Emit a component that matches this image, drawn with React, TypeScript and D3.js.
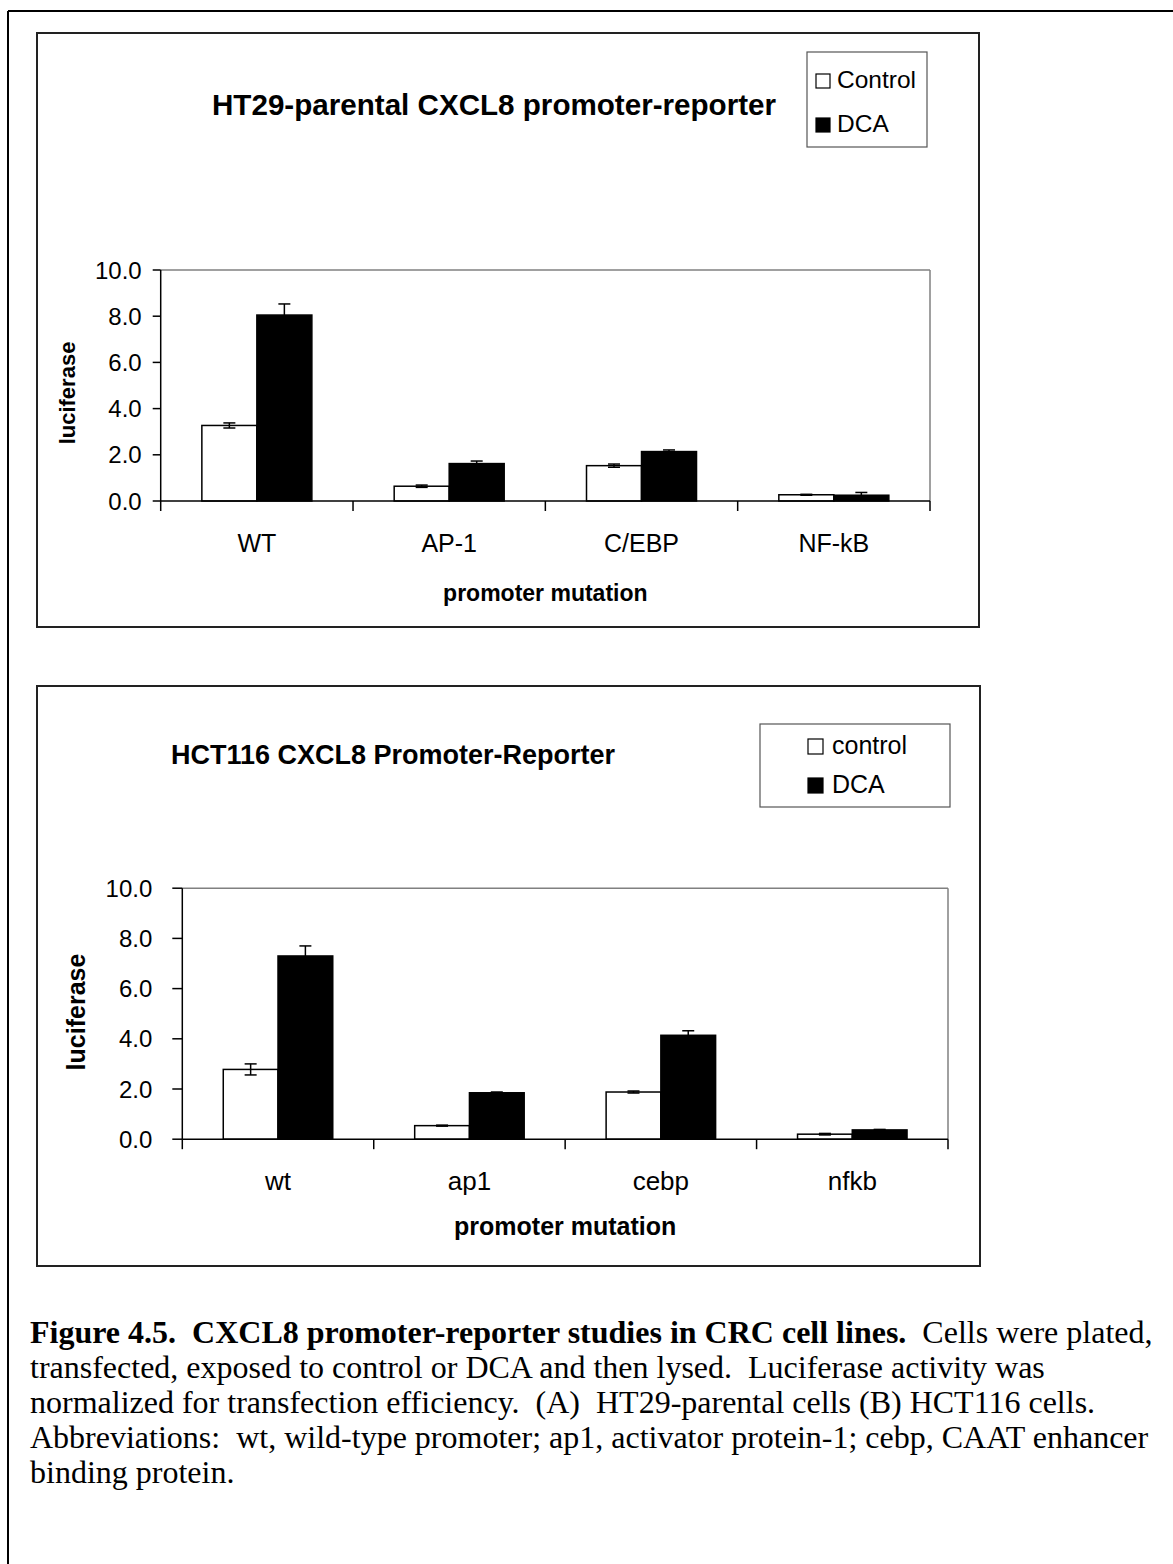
import React from "react";
import * as d3 from "d3";

// ---------- DATA ----------
const seriesNames = ["Control", "DCA"];
const seriesNamesB = ["control", "DCA"];

const categoriesA = ["WT", "AP-1", "C/EBP", "NF-kB"];
const controlA = [3.27, 0.64, 1.53, 0.27];
const controlErrA = [0.11, 0.05, 0.07, 0.02];
const dcaA = [8.05, 1.62, 2.14, 0.25];
const dcaErrA = [0.48, 0.11, 0.07, 0.12];

const categoriesB = ["wt", "ap1", "cebp", "nfkb"];
const controlB = [2.78, 0.54, 1.88, 0.2];
const controlErrB = [0.22, 0.02, 0.04, 0.03];
const dcaB = [7.3, 1.85, 4.14, 0.37];
const dcaErrB = [0.4, 0.03, 0.18, 0.02];

const yTicks = [0, 2, 4, 6, 8, 10];

const titleA = "HT29-parental CXCL8 promoter-reporter";
const titleB = "HCT116 CXCL8 Promoter-Reporter";
const yTitle = "luciferase";
const xTitle = "promoter mutation";

const captionLines: { b: string; t: string }[] = [
  { b: "Figure 4.5.  CXCL8 promoter-reporter studies in CRC cell lines.", t: "  Cells were plated," },
  { b: "", t: "transfected, exposed to control or DCA and then lysed.  Luciferase activity was" },
  { b: "", t: "normalized for transfection efficiency.  (A)  HT29-parental cells (B) HCT116 cells." },
  { b: "", t: "Abbreviations:  wt, wild-type promoter; ap1, activator protein-1; cebp, CAAT enhancer" },
  { b: "", t: "binding protein." },
];

const SANS = "'Liberation Sans', Arial, Helvetica, sans-serif";
const SERIF = "'Liberation Serif', 'Times New Roman', serif";

type Panel = {
  box: [number, number, number, number];
  plot: { left: number; top: number; right: number; bottom: number };
  title: string;
  titleX: number;
  titleY: number;
  titleSize: number;
  titleAnchor: "start" | "middle";
  legend: { x: number; y: number; w: number; h: number; sw: number; swX: number; textX: number; rows: number[]; size: number };
  names: string[];
  cats: string[];
  ctrl: number[];
  ctrlErr: number[];
  dca: number[];
  dcaErr: number[];
  tickSize: number;
  tickLabelGap: number;
  tickLen: number;
  catY: number;
  catSize: number;
  xTitleY: number;
  xTitleSize: number;
  yTitleX: number;
  yTitleY: number;
  yTitleSize: number;
};

function ChartPanel({ p }: { p: Panel }) {
  const { plot } = p;
  const y = d3.scaleLinear().domain([0, 10]).range([plot.bottom, plot.top]);
  const x0 = d3.scaleBand<string>().domain(p.cats).range([plot.left, plot.right]).paddingInner(0).paddingOuter(0);
  const bw = x0.bandwidth();
  const x1 = d3
    .scaleBand<string>()
    .domain(["c", "d"])
    .range([bw * 0.214, bw * 0.786])
    .padding(0);
  const barW = x1.bandwidth();
  const fmt = d3.format(".1f");
  const cap = 6;
  const catBoundaries = p.cats.map((c) => x0(c) as number).concat([plot.right]);

  const series = [
    { key: "c", vals: p.ctrl, errs: p.ctrlErr, fill: "#fff" },
    { key: "d", vals: p.dca, errs: p.dcaErr, fill: "#000" },
  ];

  return (
    <g>
      <rect x={p.box[0]} y={p.box[1]} width={p.box[2]} height={p.box[3]} fill="#fff" stroke="#222" strokeWidth={2} />
      <line x1={plot.left} x2={plot.right} y1={plot.top} y2={plot.top} stroke="#808080" strokeWidth={1.5} />
      <line x1={plot.right} x2={plot.right} y1={plot.top} y2={plot.bottom} stroke="#808080" strokeWidth={1.5} />
      <text x={p.titleX} y={p.titleY} fontFamily={SANS} fontWeight="bold" fontSize={p.titleSize} textAnchor={p.titleAnchor}>
        {p.title}
      </text>
      {series.map((s) =>
        p.cats.map((c, i) => {
          const bx = (x0(c) as number) + (x1(s.key) as number);
          const top = y(s.vals[i]);
          const cx = bx + barW / 2;
          const eHi = y(s.vals[i] + s.errs[i]);
          const eLo = y(s.vals[i] - s.errs[i]);
          return (
            <g key={s.key + c}>
              <rect x={bx} y={top} width={barW} height={y(0) - top} fill={s.fill} stroke="#000" strokeWidth={1.5} />
              <line x1={cx} x2={cx} y1={eHi} y2={eLo} stroke="#000" strokeWidth={1.5} />
              <line x1={cx - cap} x2={cx + cap} y1={eHi} y2={eHi} stroke="#000" strokeWidth={1.5} />
              <line x1={cx - cap} x2={cx + cap} y1={eLo} y2={eLo} stroke="#000" strokeWidth={1.5} />
            </g>
          );
        })
      )}
      <line x1={plot.left} x2={plot.left} y1={plot.top} y2={plot.bottom} stroke="#000" strokeWidth={1.5} />
      <line x1={plot.left} x2={plot.right} y1={plot.bottom} y2={plot.bottom} stroke="#000" strokeWidth={1.5} />
      {yTicks.map((t) => (
        <g key={t}>
          <line x1={plot.left - p.tickLen} x2={plot.left} y1={y(t)} y2={y(t)} stroke="#000" strokeWidth={1.5} />
          <text
            x={plot.left - p.tickLen - p.tickLabelGap}
            y={y(t)}
            dy="0.36em"
            textAnchor="end"
            fontFamily={SANS}
            fontSize={p.tickSize}
          >
            {fmt(t)}
          </text>
        </g>
      ))}
      {catBoundaries.map((bx, i) => (
        <line key={i} x1={bx} x2={bx} y1={plot.bottom} y2={plot.bottom + 10} stroke="#000" strokeWidth={1.5} />
      ))}
      {p.cats.map((c) => (
        <text key={c} x={(x0(c) as number) + bw / 2} y={p.catY} textAnchor="middle" fontFamily={SANS} fontSize={p.catSize}>
          {c}
        </text>
      ))}
      <text
        x={(plot.left + plot.right) / 2}
        y={p.xTitleY}
        textAnchor="middle"
        fontFamily={SANS}
        fontWeight="bold"
        fontSize={p.xTitleSize}
      >
        {xTitle}
      </text>
      <text
        transform={`translate(${p.yTitleX},${p.yTitleY}) rotate(-90)`}
        textAnchor="middle"
        fontFamily={SANS}
        fontWeight="bold"
        fontSize={p.yTitleSize}
      >
        {yTitle}
      </text>
      <rect x={p.legend.x} y={p.legend.y} width={p.legend.w} height={p.legend.h} fill="#fff" stroke="#555" strokeWidth={1.2} />
      {p.names.map((n, i) => (
        <g key={n}>
          <rect
            x={p.legend.swX}
            y={p.legend.rows[i] - p.legend.sw}
            width={p.legend.sw}
            height={p.legend.sw}
            fill={i === 0 ? "#fff" : "#000"}
            stroke="#000"
            strokeWidth={1.2}
          />
          <text x={p.legend.textX} y={p.legend.rows[i]} fontFamily={SANS} fontSize={p.legend.size}>
            {n}
          </text>
        </g>
      ))}
    </g>
  );
}

const panelA: Panel = {
  box: [37, 33, 942, 594],
  plot: { left: 160.7, top: 270, right: 930, bottom: 501 },
  title: titleA,
  titleX: 494,
  titleY: 115,
  titleSize: 29.6,
  titleAnchor: "middle",
  legend: { x: 807, y: 52, w: 120, h: 95, sw: 14, swX: 816, textX: 837, rows: [88, 132], size: 24.5 },
  names: seriesNames,
  cats: categoriesA,
  ctrl: controlA,
  ctrlErr: controlErrA,
  dca: dcaA,
  dcaErr: dcaErrA,
  tickSize: 24,
  tickLabelGap: 11,
  tickLen: 8,
  catY: 552,
  catSize: 25,
  xTitleY: 601,
  xTitleSize: 23,
  yTitleX: 75,
  yTitleY: 393,
  yTitleSize: 22,
};

const panelB: Panel = {
  box: [37, 686, 943, 580],
  plot: { left: 182.3, top: 888.2, right: 948, bottom: 1139.2 },
  title: titleB,
  titleX: 171,
  titleY: 764,
  titleSize: 27,
  titleAnchor: "start",
  legend: { x: 760, y: 724, w: 190, h: 83, sw: 15, swX: 808, textX: 832, rows: [754, 793], size: 25 },
  names: seriesNamesB,
  cats: categoriesB,
  ctrl: controlB,
  ctrlErr: controlErrB,
  dca: dcaB,
  dcaErr: dcaErrB,
  tickSize: 24,
  tickLabelGap: 20,
  tickLen: 10,
  catY: 1190,
  catSize: 26,
  xTitleY: 1235,
  xTitleSize: 25,
  yTitleX: 85,
  yTitleY: 1012,
  yTitleSize: 25,
};

export default function App() {
  return (
    <svg
      width={1173}
      height={1564}
      viewBox="0 0 1173 1564"
      style={{ position: "absolute", left: 0, top: 0, background: "#fff" }}
    >
      <rect x={0} y={0} width={1173} height={1564} fill="#fff" />
      <line x1={8} x2={8} y1={11} y2={1564} stroke="#000" strokeWidth={2} />
      <line x1={8} x2={1173} y1={11} y2={11} stroke="#000" strokeWidth={2} />
      <ChartPanel p={panelA} />
      <ChartPanel p={panelB} />
      {captionLines.map((l, i) => (
        <text key={i} x={30} y={1343 + i * 35} fontFamily={SERIF} fontSize={32} style={{ whiteSpace: "pre" }}>
          {l.b && <tspan fontWeight="bold">{l.b}</tspan>}
          <tspan>{l.t}</tspan>
        </text>
      ))}
    </svg>
  );
}
